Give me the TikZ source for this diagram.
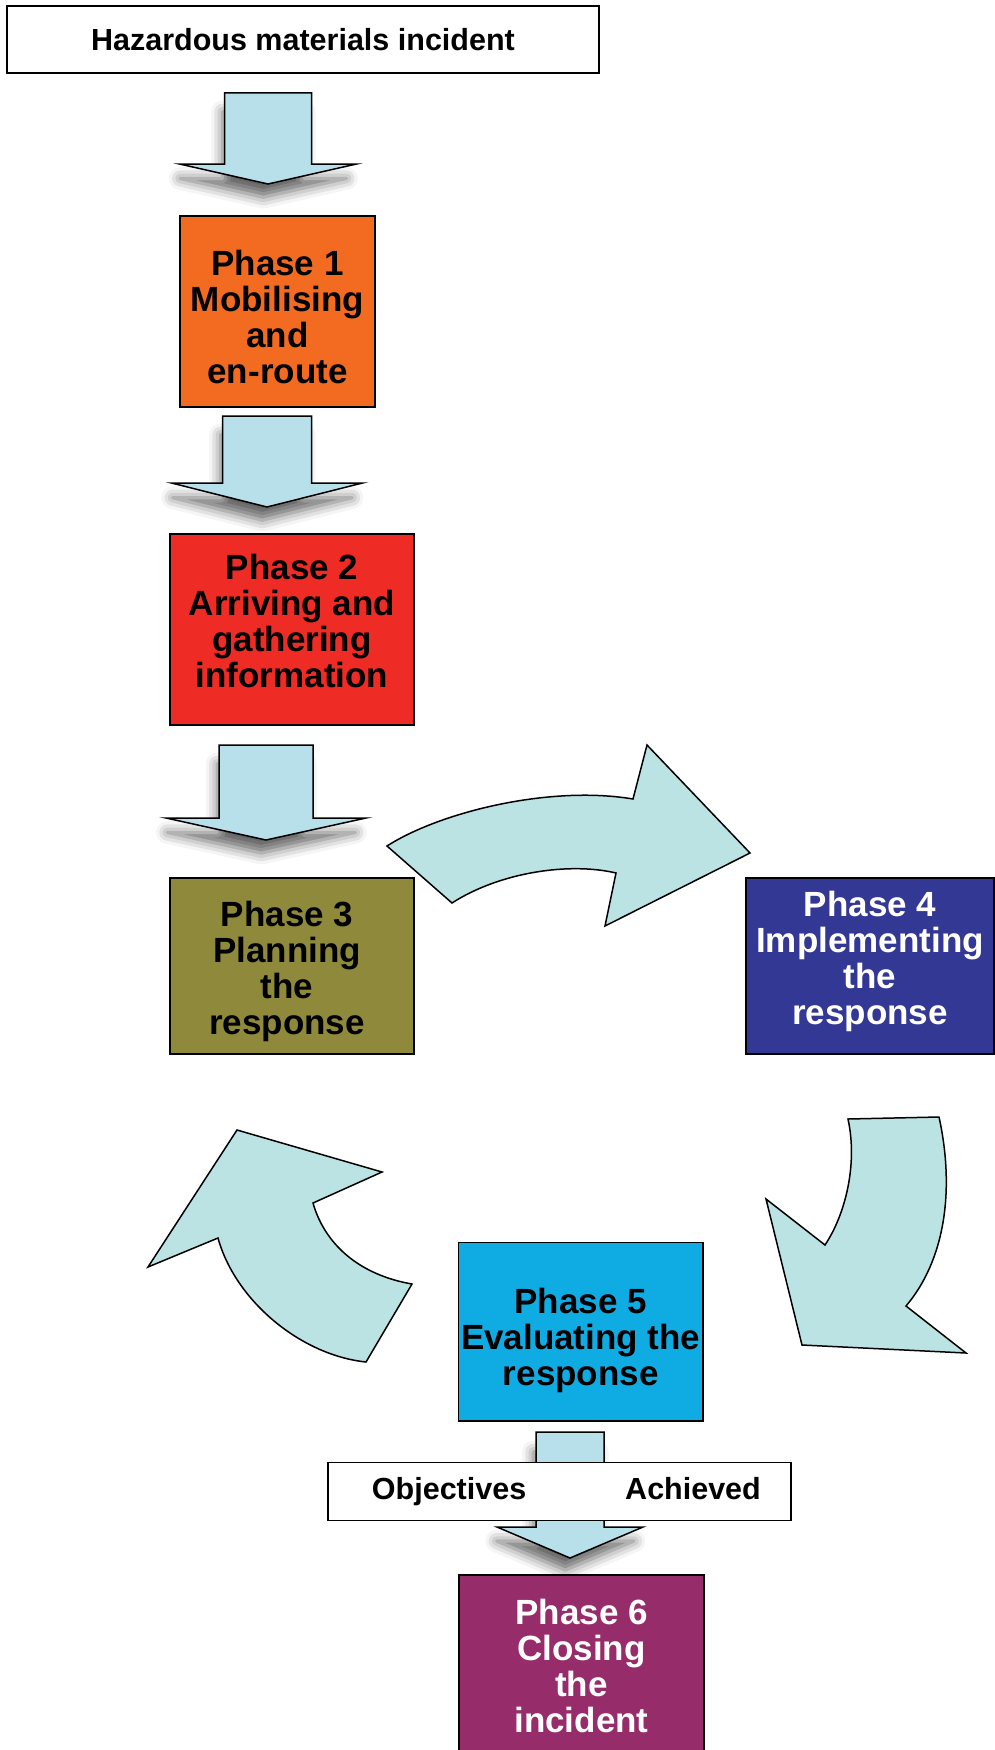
\documentclass[tikz,border=0pt]{standalone}
\usepackage{fontspec}
\setmainfont{Liberation Sans}
\usetikzlibrary{shadows.blur}

\definecolor{arrowblue}{HTML}{B8E0EA}
\definecolor{cycleblue}{HTML}{BCE3E4}
\definecolor{phaseone}{HTML}{F26B21}
\definecolor{phasetwo}{HTML}{EE2B24}
\definecolor{phasethree}{HTML}{8F8A3B}
\definecolor{phasefour}{HTML}{323894}
\definecolor{phasefive}{HTML}{0EACE3}
\definecolor{phasesix}{HTML}{972C6A}

\tikzset{
  phase/.style={draw=black, line width=1.8pt, inner sep=0pt},
  phasetext/.style={align=center, inner sep=0pt,
    font=\bfseries\fontsize{35}{36}\selectfont},
  plainbox/.style={draw=black, line width=1.8pt, fill=white, inner sep=0pt,
    font=\bfseries\fontsize{30.5}{32}\selectfont},
  flowarrow/.style={draw=black, line width=1.5pt, fill=arrowblue, line join=miter,
    blur shadow={shadow xshift=-5pt, shadow yshift=-17pt, shadow scale=0.94,
      shadow blur radius=12pt, shadow opacity=60}},
  cyclearrow/.style={draw=black, line width=1.5pt, fill=cycleblue, line join=miter}
}

% straight block arrow: centre x, top, base of head, tip, half shaft, half head
\newcommand{\flowdown}[6]{%
  \path[flowarrow] (#1-#5,#2) -- (#1+#5,#2) -- (#1+#5,#3) -- (#1+#6,#3)
    -- (#1,#4) -- (#1-#6,#3) -- (#1-#5,#3) -- cycle;}

\begin{document}
\begin{tikzpicture}[x=1pt,y=-1pt]
\useasboundingbox (0,0) rectangle (994,1750);

\flowdown{268}{93}{164}{184}{43.5}{88.5}
\flowdown{267}{416}{483}{507}{44.5}{95.5}
\flowdown{266}{745}{818}{840}{47}{100}
\flowdown{570}{1432}{1527}{1558}{34}{73}

% cycle arrows
\path[cyclearrow] (387,846) .. controls (440,812) and (550,785) .. (633,799)
  -- (647,745) -- (750,853) -- (605,926) -- (616,873)
  .. controls (570,862) and (500,872) .. (452,903) -- cycle;
\path[cyclearrow] (848,1119) -- (939,1117)
  .. controls (955,1190) and (945,1260) .. (906,1306)
  -- (966,1353) -- (802,1345) -- (766,1199) -- (825,1245)
  .. controls (845,1215) and (858,1165) .. cycle;
\path[cyclearrow] (237,1130) -- (382,1172) -- (313,1203)
  .. controls (325,1245) and (360,1275) .. (412,1284)
  -- (366,1362) .. controls (300,1355) and (235,1300) .. (218,1238)
  -- (148,1267) -- cycle;

\node[plainbox, minimum width=592pt, minimum height=67pt] (hazmat) at (303,39.5) {Hazardous materials incident};

\node[phase, fill=phaseone, minimum width=195pt, minimum height=191pt,
  label={[phasetext, yshift=-5.6pt]center:Phase 1\\Mobilising\\and\\en-route}] (p1) at (277.5,311.5) {};
\node[phase, fill=phasetwo, minimum width=244pt, minimum height=191pt,
  label={[phasetext, yshift=9pt]center:Phase 2\\Arriving and\\gathering\\information}] (p2) at (292,629.5) {};
\node[phase, fill=phasethree, minimum width=244pt, minimum height=176pt,
  label={[phasetext, xshift=-5pt, yshift=-5.5pt]center:Phase 3\\Planning\\the\\response}] (p3) at (292,966) {};
\node[phase, fill=phasefour, minimum width=248pt, minimum height=176pt,
  label={[phasetext, text=white, yshift=4.5pt]center:Phase 4\\Implementing\\the\\response}] (p4) at (870,966) {};
\node[phase, fill=phasefive, minimum width=244.5pt, minimum height=178.5pt,
  label={[phasetext, yshift=-9pt]center:Phase 5\\Evaluating the\\response}] (p5) at (580.75,1331.75) {};

\node[plainbox, minimum width=463pt, minimum height=58pt] (goal) at (559.5,1491.5) {\hspace{13.8pt}Objectives\hspace{99pt}Achieved};

\node[phase, fill=phasesix, minimum width=245pt, minimum height=182pt,
  label={[phasetext, text=white]center:Phase 6\\Closing\\the\\incident}] (p6) at (581.5,1666) {};
\end{tikzpicture}
\end{document}
